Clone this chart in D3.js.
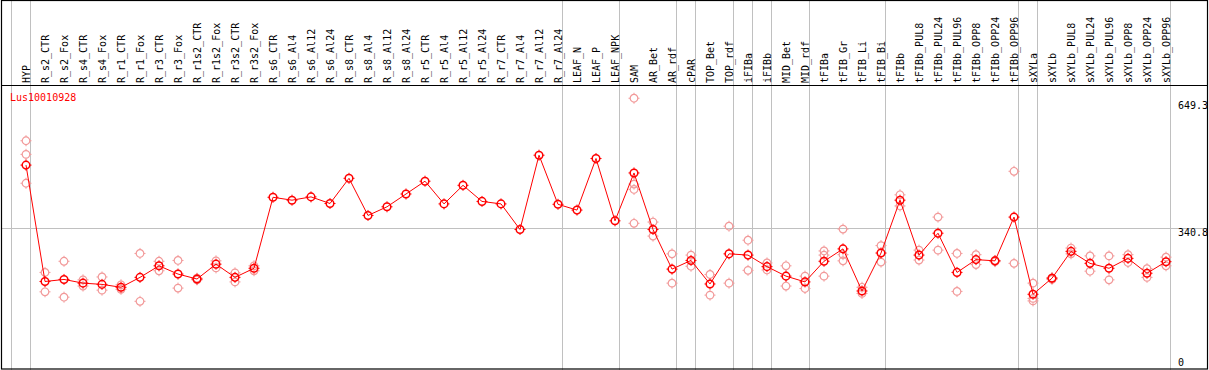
<!DOCTYPE html>
<html>
<head>
<meta charset="utf-8">
<script src="https://cdn.jsdelivr.net/npm/d3@7"></script>
<style>
  body { margin: 0; background: #fff; }
  text { font-family: "DejaVu Sans Mono", monospace; font-size: 10px; }
</style>
</head>
<body>
<script>
let geneId = "Lus10010928";

let categories = [
  "HYP", "R_s2_CTR", "R_s2_Fox", "R_s4_CTR", "R_s4_Fox", "R_r1_CTR", "R_r1_Fox",
  "R_r3_CTR", "R_r3_Fox", "R_r1s2_CTR", "R_r1s2_Fox", "R_r3s2_CTR", "R_r3s2_Fox",
  "R_s6_CTR", "R_s6_Al4", "R_s6_Al12", "R_s6_Al24", "R_s8_CTR", "R_s8_Al4", "R_s8_Al12", "R_s8_Al24",
  "R_r5_CTR", "R_r5_Al4", "R_r5_Al12", "R_r5_Al24", "R_r7_CTR", "R_r7_Al4", "R_r7_Al12", "R_r7_Al24",
  "LEAF_N", "LEAF_P", "LEAF_NPK", "SAM", "AR_Bet", "AR_rdf", "cPAR", "TOP_Bet", "TOP_rdf",
  "iFIBa", "iFIBb", "MID_Bet", "MID_rdf", "tFIBa", "tFIB_Gr", "tFIB_Li", "tFIB_Bi",
  "tFIBb", "tFIBb_PUL8", "tFIBb_PUL24", "tFIBb_PUL96", "tFIBb_OPP8", "tFIBb_OPP24", "tFIBb_OPP96",
  "sXYLa", "sXYLb", "sXYLb_PUL8", "sXYLb_PUL24", "sXYLb_PUL96", "sXYLb_OPP8", "sXYLb_OPP24", "sXYLb_OPP96"
];

// first category of each sample group (a grey separator sits before each)
let groupStarts = ["HYP", "R_s2_CTR", "LEAF_N", "SAM", "cPAR", "TOP_Bet", "iFIBa", "iFIBb",
  "MID_Bet", "tFIBa", "tFIBb", "sXYLa", "sXYLb"];

let means = [
  494, 212, 217, 208, 205, 198, 222, 250, 230, 218, 254, 222, 244,
  416, 409, 417, 401, 462, 372, 393, 424,
  455, 400, 445, 406, 400, 338, 518, 399,
  385, 510, 359, 475, 338, 242, 263, 206, 279,
  276, 248, 225, 211, 261, 291, 189, 281,
  409, 276, 329, 234, 265, 262, 368,
  181, 220, 285, 256, 244, 268, 232, 260
];

let replicates = [
  [553, 520, 450], [234, 187], [261, 174], [216, 201], [223, 191], [204, 193], [280, 164],
  [261, 238], [263, 196], [216, 220], [262, 245], [233, 211], [250, 238],
  [], [], [], [], [], [], [], [],
  [], [], [], [], [], [], [], [],
  [], [], [], [656, 448, 435, 353], [356, 322], [279, 208], [276, 249], [229, 179], [346, 208],
  [312, 239], [257, 240], [250, 201], [225, 195], [286, 276, 225], [339, 277, 262], [198, 183], [299, 259],
  [422, 395], [288, 264], [368, 288], [280, 188], [277, 253], [260, 263], [479, 256],
  [208, 171, 165], [221, 217], [293, 279], [274, 237], [274, 216], [277, 258], [243, 222], [271, 250]
];

let yTicks = [649.3, 340.8, 0];

let W = 1209, H = 370;

let svg = d3.select('body')
  .append('svg')
  .attr('width', W)
  .attr('height', H);

let x = d3.scalePoint()
  .domain(categories)
  .range([26, 1166]);

let y = d3.scaleLinear()
  .domain([0, 649.3])
  .range([369, 101]);

let step = x.step();
let headerY = 85.5;
let rightEdge = 1207.5;

// grey group separators
let sepX = groupStarts.map(c => x(c) - 14.5);
sepX.push(x(categories[categories.length - 1]) + 4.5);

svg.selectAll('.sep')
  .data(sepX)
  .enter()
  .append('line')
  .attr('x1', d => d)
  .attr('x2', d => d)
  .attr('y1', 0)
  .attr('y2', H)
  .attr('stroke', '#c0c0c0')
  .attr('stroke-width', 1);

// horizontal grid line at middle tick
svg.append('line')
  .attr('x1', 1)
  .attr('x2', rightEdge)
  .attr('y1', Math.round(y(340.8)) + 0.5)
  .attr('y2', Math.round(y(340.8)) + 0.5)
  .attr('stroke', '#c0c0c0')
  .attr('stroke-width', 1);

// frame
svg.append('rect')
  .attr('x', 1.5)
  .attr('y', 0.5)
  .attr('width', rightEdge - 1.5)
  .attr('height', 368.5)
  .attr('fill', 'none')
  .attr('stroke', 'black')
  .attr('stroke-width', 1.2);

svg.append('line')
  .attr('x1', 1)
  .attr('x2', rightEdge)
  .attr('y1', headerY)
  .attr('y2', headerY)
  .attr('stroke', 'black')
  .attr('stroke-width', 1.2);

// rotated category labels
svg.selectAll('.cat')
  .data(categories)
  .enter()
  .append('text')
  .attr('transform', d => `translate(${x(d) + 4},83) rotate(-90)`)
  .attr('text-anchor', 'start')
  .attr('fill', 'black')
  .text(d => d);

// gene id
svg.append('text')
  .attr('x', 10)
  .attr('y', 101)
  .attr('fill', 'red')
  .text(geneId);

// right value labels
svg.selectAll('.ytick')
  .data(yTicks)
  .enter()
  .append('text')
  .attr('x', 1178)
  .attr('y', d => d === 0 ? y(d) - 3 : y(d) + 8)
  .attr('fill', 'black')
  .text(d => d);

// marker: small circle with four ticks
function marker(g, color, sw) {
  g.append('circle')
    .attr('r', 3.8)
    .attr('fill', 'none')
    .attr('stroke', color)
    .attr('stroke-width', sw);
  g.append('path')
    .attr('d', 'M0,-3.8V-5.5M0,3.8V5.5M-3.8,0H-5.5M3.8,0H5.5')
    .attr('stroke', color)
    .attr('stroke-width', 1);
}

// replicate points
let repPoints = [];
replicates.forEach((arr, i) => {
  arr.forEach(v => repPoints.push({ c: categories[i], v: v }));
});

svg.selectAll('.rep')
  .data(repPoints)
  .enter()
  .append('g')
  .attr('transform', d => `translate(${x(d.c)},${y(d.v)})`)
  .each(function () { marker(d3.select(this), '#f29a9a', 1.2); });

// mean line
let lineFunction = d3.line()
  .x((d, i) => x(categories[i]))
  .y(d => y(d));

svg.append('path')
  .attr('d', lineFunction(means))
  .attr('stroke', 'red')
  .attr('stroke-width', 1)
  .attr('fill', 'none');

svg.selectAll('.mean')
  .data(means)
  .enter()
  .append('g')
  .attr('transform', (d, i) => `translate(${x(categories[i])},${y(d)})`)
  .each(function () { marker(d3.select(this), 'red', 1.5); });
</script>
</body>
</html>
